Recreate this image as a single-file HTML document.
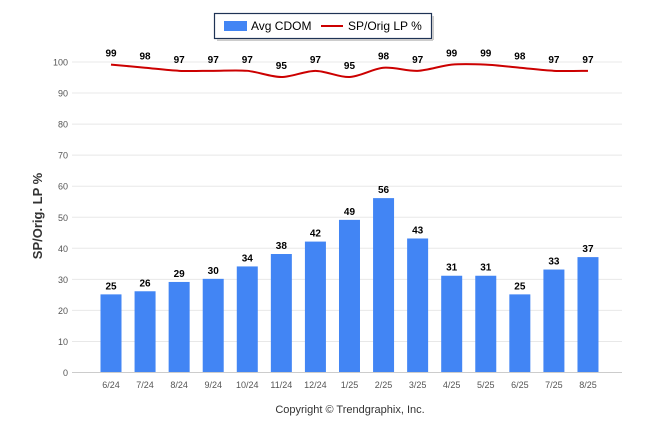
<!DOCTYPE html>
<html><head><meta charset="utf-8"><style>
body{margin:0;background:#fff;font-family:"Liberation Sans",Arial,sans-serif}
</style></head><body>
<svg id="c" width="646" height="434" xmlns="http://www.w3.org/2000/svg" style="font-family:'Liberation Sans',Arial,sans-serif">
<g>
<rect x="214.5" y="13.5" width="217" height="25" fill="#fff" stroke="#1f3355" stroke-width="1.2"/>
<line x1="217" y1="40" x2="433" y2="40" stroke="#ccc" stroke-width="2"/>
<line x1="433" y1="16" x2="433" y2="40" stroke="#ccc" stroke-width="2"/>
<rect x="224" y="21" width="23" height="10" fill="#4285f4"/>
<text x="251" y="30" font-size="12">Avg CDOM</text>
<line x1="321" y1="26" x2="343" y2="26" stroke="#cc0000" stroke-width="2"/>
<text x="348" y="30" font-size="12">SP/Orig LP %</text>
</g>
<text transform="translate(42,216) rotate(-90)" text-anchor="middle" font-size="13" font-weight="bold" fill="#333">SP/Orig. LP %</text>
<text x="350" y="413" text-anchor="middle" font-size="11" fill="#333">Copyright © Trendgraphix, Inc.</text>
<g id="grid"></g><g id="bars"></g><g id="line"></g><g id="labels"></g>
</svg>
<script>
const categories=["6/24","7/24","8/24","9/24","10/24","11/24","12/24","1/25","2/25","3/25","4/25","5/25","6/25","7/25","8/25"];
const cdom=[25,26,29,30,34,38,42,49,56,43,31,31,25,33,37];
const lp=[99,98,97,97,97,95,97,95,98,97,99,99,98,97,97];
const yTicks=[0,10,20,30,40,50,60,70,80,90,100];
const NS="http://www.w3.org/2000/svg";
const y=v=>372-v*3.105;
const x=i=>111+i*34.07;
function mk(t,a,p,txt){const e=document.createElementNS(NS,t);for(const k in a)e.setAttribute(k,a[k]);if(txt!=null)e.textContent=txt;document.getElementById(p).appendChild(e);return e;}
yTicks.forEach(t=>{
 const l=mk('line',{x1:72,x2:622,y1:y(t)+0.5,y2:y(t)+0.5,stroke:t==0?'#ccc':'#e8e8e8'},'grid');
 
 
 const tx=mk('text',{x:68,y:y(t)+4,'text-anchor':'end','font-size':9,fill:'#555'},'grid',t);
 
 
});
categories.forEach((c,i)=>{
 const b=mk('rect',{x:x(i)-10.5,y:y(cdom[i]),width:21,height:372-y(cdom[i]),fill:'#4285f4'},'bars');
 
 
 const v=mk('text',{x:x(i),y:y(cdom[i])-5,'text-anchor':'middle','font-size':10,'font-weight':'bold'},'labels',cdom[i]);
 
 
 const xl=mk('text',{x:x(i),y:388,'text-anchor':'middle','font-size':9,fill:'#555'},'grid',c);
 
 
 const lv=mk('text',{x:x(i),y:y(lp[i])-8,'text-anchor':'middle','font-size':10,'font-weight':'bold'},'labels',lp[i]);
 
 
});
const pts=lp.map((v,i)=>[x(i),y(v)]);
let d='M'+pts[0][0]+','+pts[0][1];
for(let i=0;i<pts.length-1;i++){
 const p0=pts[Math.max(0,i-1)],p1=pts[i],p2=pts[i+1],p3=pts[Math.min(pts.length-1,i+2)];
 const k=0.15;
 d+=` C${p1[0]+(p2[0]-p0[0])*k},${p1[1]+(p2[1]-p0[1])*k} ${p2[0]-(p3[0]-p1[0])*k},${p2[1]-(p3[1]-p1[1])*k} ${p2[0]},${p2[1]}`;
}
const ln=mk('path',{d:d,fill:'none',stroke:'#cc0000','stroke-width':2},'line');


</script>
</body></html>
